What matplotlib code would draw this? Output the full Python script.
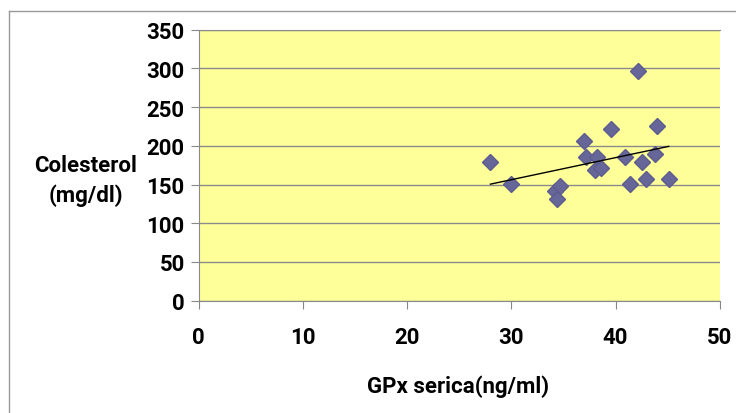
import matplotlib
matplotlib.use("Agg")
import matplotlib.pyplot as plt
from matplotlib.lines import Line2D
import numpy as np

# GPx serica (ng/ml) vs Colesterol (mg/dl)
gpx = [28.0, 30.0, 34.2, 34.65, 34.4, 37.0, 37.2, 38.2, 38.0, 38.65,
       39.6, 40.95, 42.15, 41.4, 42.5, 42.9, 44.0, 43.8, 45.1]
col = [179, 151, 142, 148, 131, 206, 186, 185, 169, 172,
       222, 185, 297, 151, 179, 157, 226, 190, 157]
x_ticks = [0, 10, 20, 30, 40, 50]
y_ticks = [0, 50, 100, 150, 200, 250, 300, 350]

plt.rcParams["font.family"] = ["Roboto", "DejaVu Sans"]
FS = 16

fig = plt.figure(figsize=(7.36, 4.14), dpi=100, facecolor="white")
ax = fig.add_axes([0.2698, 0.2713, 0.978 - 0.2698, 0.9258 - 0.2713])
ax.set_facecolor("#FFFF99")

ax.set_xlim(0, 50)
ax.set_ylim(0, 350)
ax.set_xticks(x_ticks)
ax.set_yticks(y_ticks)
ax.set_xticklabels([str(v) for v in x_ticks], fontsize=FS, fontweight="bold")
ax.set_yticklabels([str(v) for v in y_ticks], fontsize=FS, fontweight="bold")
ax.tick_params(axis="x", length=6, color="#888888", pad=12)
ax.tick_params(axis="y", length=6, color="#888888", pad=4)

ax.grid(axis="y", color="#8a8a8a", linewidth=1)
ax.set_axisbelow(True)
ax.spines["right"].set_visible(False)
for s in ["left", "bottom", "top"]:
    ax.spines[s].set_color("#8a8a8a")

ax.plot(gpx, col, linestyle="none", marker="D", markersize=8.5,
        markerfacecolor="#666699", markeredgecolor="#5c5c8f", zorder=3)

# linear trend
k, b = np.polyfit(gpx, col, 1)
xs = np.array([min(gpx), max(gpx)])
ax.plot(xs, k * xs + b, color="black", linewidth=1, zorder=4)

fig.text(86 / 736, 1 - 181 / 414, "Colesterol\n(mg/dl)", ha="center", va="center",
         fontsize=FS, fontweight="bold", linespacing=1.45)
fig.text(458 / 736, 1 - 387 / 414, "GPx serica(ng/ml)", ha="center", va="center",
         fontsize=FS, fontweight="bold")

# outer chart border
fig.add_artist(Line2D([9 / 736, 1], [1 - 12 / 414, 1 - 12 / 414], color="#999999", linewidth=1))
fig.add_artist(Line2D([9 / 736, 9 / 736], [0, 1 - 12 / 414], color="#999999", linewidth=1))

fig.savefig("out.png", dpi=100)
